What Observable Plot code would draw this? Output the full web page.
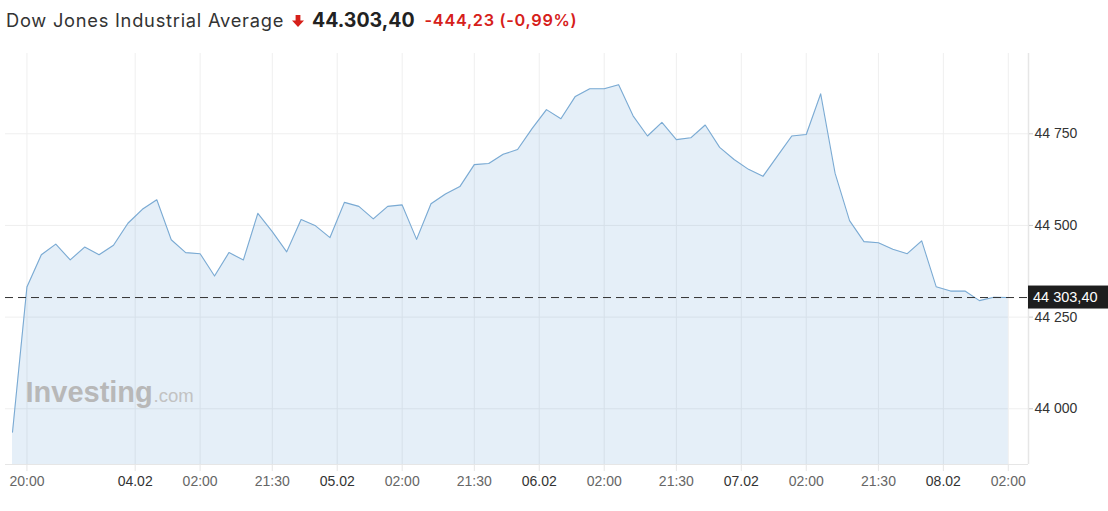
<!DOCTYPE html>
<html>
<head>
<meta charset="utf-8">
<script src="https://cdn.jsdelivr.net/npm/d3@7"></script>
<script src="https://cdn.jsdelivr.net/npm/@observablehq/plot@0.6"></script>
<style>
  html, body { margin: 0; padding: 0; background: #fff; }
  body { width: 1108px; height: 511px; overflow: hidden; }
  #title { height: 40px; display: flex; align-items: center; padding-left: 6px; font-family: Inter, "Noto Sans", sans-serif; white-space: nowrap; }
  #title .name { font-size: 18.3px; color: #333; letter-spacing: 0.74px; }
  #title .arrow { margin-left: 8px; margin-right: 8px; display: inline-block; position: relative; top: 1px; }
  #title .last { font-size: 19.5px; font-weight: 700; color: #222; }
  #title .chg { font-size: 16.3px; font-weight: 600; color: #d6201a; margin-left: 10px; letter-spacing: 0.7px; }
  #chart svg { display: block; }
</style>
</head>
<body>
<div id="title">
  <span class="name">Dow Jones Industrial Average</span>
  <svg class="arrow" width="12" height="12" viewBox="0 0 12 12"><path d="M3.6 0 H8.4 V5.5 H12 L6 12 L0 5.5 H3.6 Z" fill="#d6201a"/></svg>
  <span class="last">44.303,40</span>
  <span class="chg">-444,23 (-0,99%)</span>
</div>
<div id="chart"></div>
<script>
const values = [
  43936, 44332, 44420, 44449, 44406, 44441, 44420, 44446, 44506, 44544,
  44570, 44461, 44426, 44423, 44362, 44426, 44406, 44533, 44483, 44428,
  44516, 44499, 44467, 44563, 44552, 44518, 44552, 44556, 44462, 44559,
  44586, 44606, 44666, 44669, 44694, 44707, 44764, 44816, 44791, 44852,
  44873, 44873, 44884, 44799, 44744, 44781, 44734, 44739, 44774, 44713,
  44680, 44653, 44634, 44689, 44744, 44748, 44859, 44642, 44513, 44456,
  44453, 44435, 44423, 44458, 44333, 44321, 44321, 44295, 44304, 44303.40
];
const lastPrice = 44303.40;
const timeTicks = [1, 13, 18, 27, 32, 41, 46, 55, 60, 69];
const timeLabels = ["20:00", "02:00", "21:30", "02:00", "21:30", "02:00", "21:30", "02:00", "21:30", "02:00"];
const dateTicks = [8.5, 22.5, 36.5, 50.5, 64.5];
const dateLabels = ["04.02", "05.02", "06.02", "07.02", "08.02"];
const yTicks = [44000, 44250, 44500, 44750];

const data = values.map((v, i) => ({i, v}));
const yDomain = [43848, 44969];
const xDomain = [-0.485, 70.4];
const fmtInt = d => d3.format(",")(d).replace(/,/g, " ");
const fmtPrice = d => d3.format(",.2f")(d).replace(/,/g, " ").replace(".", ",");

const allTicks = [...timeTicks, ...dateTicks];
const font = "Arial, 'Liberation Sans', sans-serif";

const chart = Plot.plot({
  width: 1108,
  height: 471,
  marginTop: 13,
  marginBottom: 47,
  marginLeft: 5,
  marginRight: 80,
  style: {fontFamily: font, fontSize: "14px", background: "#fff"},
  x: {domain: xDomain, axis: null},
  y: {domain: yDomain, axis: null},
  marks: [
    Plot.ruleY(yTicks, {stroke: "#efefef", strokeWidth: 1}),
    Plot.ruleX(allTicks, {stroke: "#efefef", strokeWidth: 1}),
    Plot.areaY(data, {x: "i", y1: yDomain[0], y2: "v", fill: "rgb(40,120,200)", fillOpacity: 0.12, curve: "linear"}),
    Plot.lineY(data, {x: "i", y: "v", stroke: "#7aaad3", strokeWidth: 1.1, curve: "linear"}),
    Plot.ruleY([lastPrice], {stroke: "#333", strokeWidth: 1, strokeDasharray: "8,5"}),
    Plot.ruleY([yDomain[0]], {stroke: "#e6e6e6", strokeWidth: 1}),
    Plot.ruleX([xDomain[1]], {stroke: "#e6e6e6", strokeWidth: 1.5}),
    Plot.axisX(timeTicks, {
      anchor: "bottom", label: null, tickSize: 7, tickPadding: 5, stroke: "#e6e6e6",
      tickFormat: d => timeLabels[timeTicks.indexOf(d)], fill: "#666", fontSize: 14
    }),
    Plot.axisX(dateTicks, {
      anchor: "bottom", label: null, tickSize: 7, tickPadding: 5, stroke: "#e6e6e6",
      tickFormat: d => dateLabels[dateTicks.indexOf(d)], fill: "#333", fontSize: 14
    }),
    Plot.axisY(yTicks, {
      anchor: "right", label: null, tickSize: 4, tickPadding: 2, stroke: "#ccc",
      tickFormat: fmtInt, fill: "#333", fontSize: 14
    }),
    Plot.text(["Investing"], {
      frameAnchor: "bottom-left", dx: 20, dy: -63, text: d => d, textAnchor: "start", lineAnchor: "bottom",
      fill: "#b8b8b8", fontSize: 29, fontWeight: "bold", fontFamily: font
    }),
    Plot.text([".com"], {
      frameAnchor: "bottom-left", dx: 148, dy: -63, text: d => d, textAnchor: "start", lineAnchor: "bottom",
      fill: "#c2c2c2", fontSize: 18.5, fontFamily: font
    })
  ]
});

// Current price label on the right axis, placed through the chart's own y scale
const ys = chart.scale("y");
const yp = ys.apply(lastPrice);
const svg = d3.select(chart);
const g = svg.append("g");
g.append("rect").attr("x", 1028).attr("y", yp - 11.5).attr("width", 80).attr("height", 23).attr("fill", "#1e1e1e");
g.append("text").attr("x", 1033).attr("y", yp).attr("dy", "0.35em").attr("text-anchor", "start")
  .attr("fill", "#fff").attr("font-size", 14.5).attr("font-family", font)
  .text(fmtPrice(lastPrice));

document.getElementById("chart").appendChild(chart);
</script>
</body>
</html>
